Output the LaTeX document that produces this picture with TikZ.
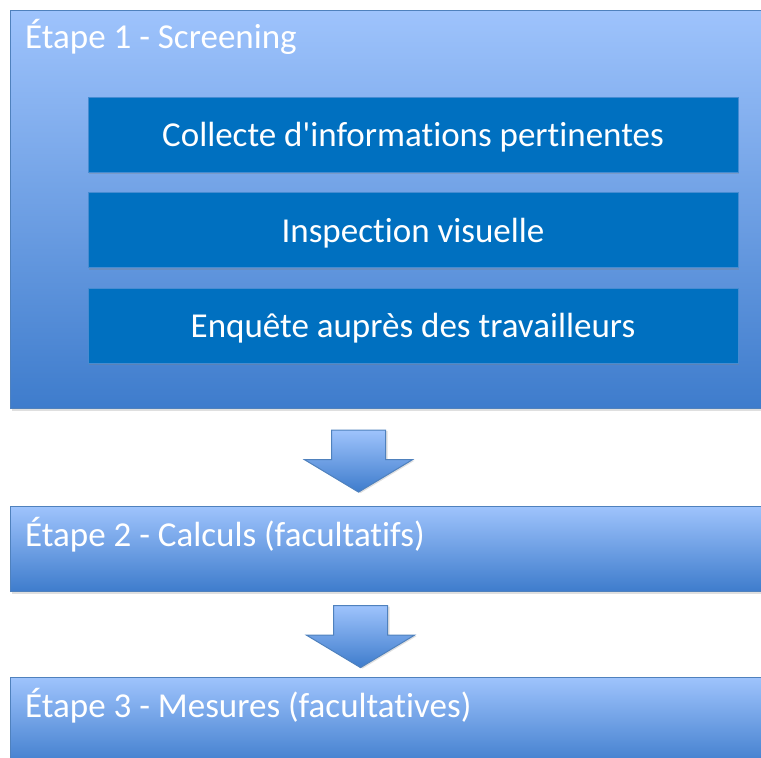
\documentclass[tikz,border=0pt]{standalone}
\usepackage{fontspec}
\setmainfont{Carlito}[Ligatures={CommonOff,TeXOff}]
\usetikzlibrary{shapes.arrows, shadows}
\definecolor{steplight}{RGB}{158,195,252}
\definecolor{stepdark}{RGB}{62,124,204}
\definecolor{stepline}{RGB}{79,129,189}
\definecolor{taskfill}{RGB}{0,112,192}
\definecolor{taskline}{RGB}{70,140,210}
\tikzstyle{stage} = [rectangle, draw=stepline, line width=1.2pt, top color=steplight, bottom color=stepdark, anchor=north west, inner sep=0pt, minimum width=760pt, drop shadow={shadow xshift=1pt, shadow yshift=-2pt, opacity=0.25}]
\tikzstyle{task} = [rectangle, draw=taskline, line width=1pt, fill=taskfill, minimum width=650pt, minimum height=75pt, text=white, font=\fontsize{35}{40}\selectfont, text height=27pt, text depth=3pt, drop shadow={shadow xshift=1pt, shadow yshift=-2pt, opacity=0.3}]
\tikzstyle{title} = [anchor=base west, inner sep=0pt, text=white, font=\fontsize{35}{40}\selectfont]
\tikzstyle{bigarrow} = [single arrow, rotate=-90, draw=stepline, line width=1pt, top color=steplight, bottom color=stepdark, inner xsep=0pt, inner ysep=26.5pt, minimum height=62pt, single arrow head extend=27pt, single arrow tip angle=118, drop shadow={shadow xshift=2pt, shadow yshift=-1pt, opacity=0.25}]

\begin{document}
\begin{tikzpicture}[x=1pt, y=-1pt]
\useasboundingbox (0,0) rectangle (761,758);

\node (step1) [stage, minimum height=398pt] at (10,10) {};
\node (title1) [title] at (25,48) {Étape 1 - Screening};
\node (collect) [task] at (413,134.5) {Collecte d'informations pertinentes};
\node (inspect) [task, below of=collect, node distance=95.5pt] {Inspection visuelle};
\node (survey) [task, below of=inspect, node distance=95.5pt] {Enquête auprès des travailleurs};

\node (step2) [stage, minimum height=85pt] at (10,506) {};
\node (title2) [title] at (25,546) {Étape 2 - Calculs (facultatifs)};

\node (step3) [stage, minimum height=90pt] at (10,677) {};
\node (title3) [title] at (25,717) {Étape 3 - Mesures (facultatives)};

\node (arrow1) [bigarrow] at (358.5,453) {};
\node (arrow2) [bigarrow] at (360.5,628.5) {};
\end{tikzpicture}
\end{document}
